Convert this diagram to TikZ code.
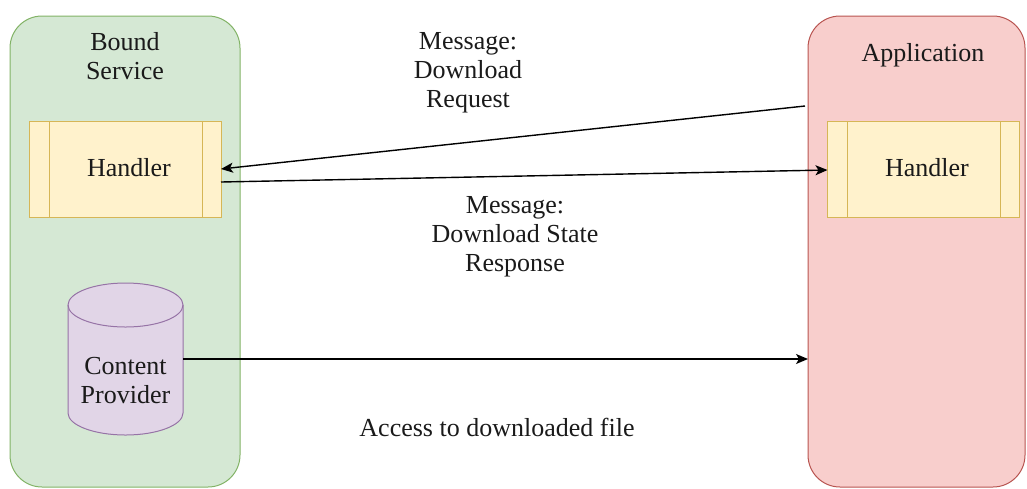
\documentclass[tikz,border=0pt]{standalone}
\usepackage{fontspec}
\setmainfont{Liberation Serif}
\usetikzlibrary{arrows.meta,calc}

\definecolor{svcfill}{HTML}{D5E8D4}
\definecolor{svcline}{HTML}{82B366}
\definecolor{appfill}{HTML}{F8CECC}
\definecolor{appline}{HTML}{B85450}
\definecolor{hdlfill}{HTML}{FFF2CC}
\definecolor{hdlline}{HTML}{D6B656}
\definecolor{cpfill}{HTML}{E1D5E7}
\definecolor{cpline}{HTML}{9673A6}
\definecolor{txt}{HTML}{1A1A1A}

\tikzset{
  lane/.style={rectangle, rounded corners=32pt, line width=1pt, outer sep=0pt},
  handlerbox/.style={rectangle, draw=hdlline, fill=hdlfill, line width=1pt,
    minimum width=192, minimum height=96, outer sep=0pt, inner sep=0pt},
  lbl/.style={align=center, text=txt, inner sep=0pt,
    font=\fontsize{26}{29}\selectfont},
  msg/.style={line width=1.4pt, -{Stealth[length=12pt,width=10pt,inset=3pt]}},
}

\begin{document}
\begin{tikzpicture}[x=1pt,y=-1pt]
\useasboundingbox (0,0) rectangle (1027,488);

% the two process lanes
\node[lane, fill=svcfill, draw=svcline, minimum width=230, minimum height=471] (svc) at (125,251.5) {};
\node[lane, fill=appfill, draw=appline, minimum width=217, minimum height=471] (app) at (916.5,251.5) {};

\node[lbl] (svctitle) at (125,56) {Bound\\Service};
\node[lbl] (apptitle) at (923,55) {Application};

% handlers (process shapes with side bars)
\node[handlerbox] (h1) at (125,169) {};
\draw[hdlline, line width=1pt] ([xshift=20]h1.north west) -- ([xshift=20]h1.south west)
  ([xshift=-19]h1.north east) -- ([xshift=-19]h1.south east);
\node[lbl] (h1text) at (129,168) {Handler};

\node[handlerbox] (h2) at (923.5,169) {};
\draw[hdlline, line width=1pt] ([xshift=20]h2.north west) -- ([xshift=20]h2.south west)
  ([xshift=-19]h2.north east) -- ([xshift=-19]h2.south east);
\node[lbl] (h2text) at (927,168) {Handler};

% content provider cylinder
\node[minimum width=115, minimum height=152, inner sep=0pt, outer sep=0pt] (cp) at (125.5,359) {};
\draw[cpline, fill=cpfill, line width=1pt]
  ($(cp.north west)+(0,22)$) -- ($(cp.south west)+(0,-22)$)
  arc[start angle=180, end angle=360, x radius=57.5, y radius=-22]
  -- ($(cp.north east)+(0,22)$)
  arc[start angle=0, end angle=180, x radius=57.5, y radius=-22] -- cycle;
\draw[cpline, line width=1pt]
  ($(cp.north west)+(0,22)$) arc[start angle=180, end angle=360, x radius=57.5, y radius=-22];
\node[lbl] (cptext) at (125.5,381) {Content\\Provider};

% messages between the handlers
\coordinate (reqstart) at (805,106);
\draw[msg] (reqstart) -- (h1.east);
\draw[msg] ([yshift=-13pt]h1.east) -- ([yshift=-1pt]h2.west);
\draw[msg] (cp.east) -- (cp.east -| app.west);

\node[lbl] (reqlbl) at (468,73) {Message:\\Download\\Request};
\node[lbl] (resplbl) at (515,237) {Message:\\Download State\\Response};
\node[lbl] (acclbl) at (497,427) {Access to downloaded file};
\end{tikzpicture}
\end{document}
